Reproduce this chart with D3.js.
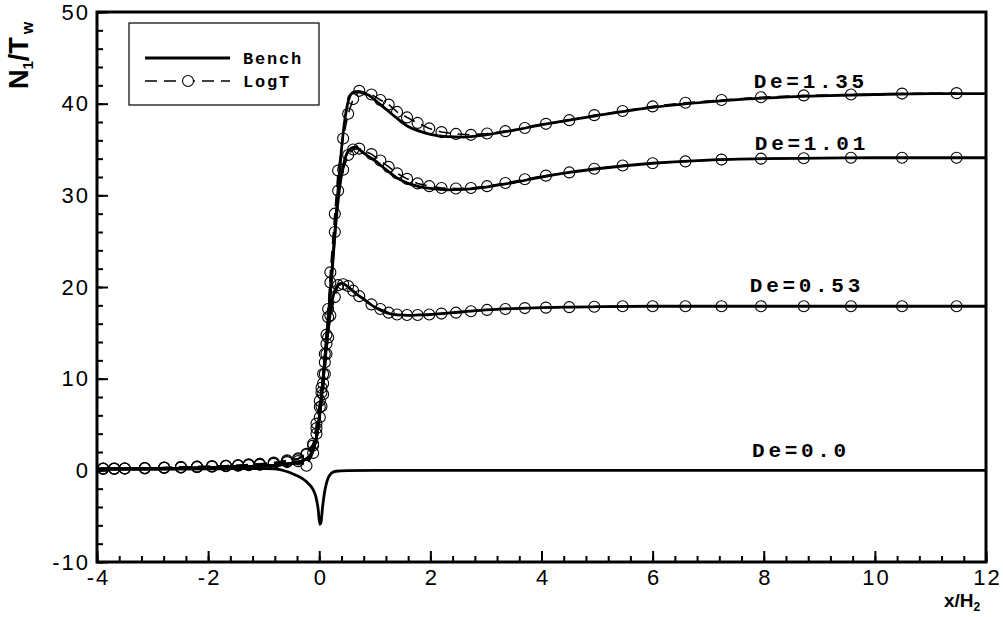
<!DOCTYPE html>
<html>
<head>
<meta charset="utf-8">
<script src="https://cdn.jsdelivr.net/npm/d3@7"></script>
<style>
    body { margin: 0; background: #fff; }
    svg { display: block; }
    .tick text { font-family: "Liberation Sans", Arial, sans-serif; font-size: 22px; letter-spacing: 2px; fill: #000; }
    .mono { font-family: "Liberation Mono", "Courier New", monospace; font-weight: bold; }
</style>
</head>
<body>
<svg id="chart" width="1003" height="617"></svg>
<script>
// bench solution, shared x grid
const xBench = [-4, -3, -2, -1.5, -1, -0.7, -0.5, -0.4, -0.3, -0.2, -0.15, -0.1, -0.05, 0, 0.05, 0.1, 0.15, 0.2, 0.25, 0.3, 0.35, 0.4, 0.45, 0.5, 0.55, 0.6, 0.65, 0.7, 0.8, 0.9, 1.0, 1.2, 1.4, 1.6, 1.8, 2.0, 2.3, 2.6, 3.0, 3.5, 4.0, 4.5, 5.0, 6.0, 7.0, 8.0, 9.0, 10, 11, 12];
const benchDe135 = [0.15, 0.2, 0.3, 0.4, 0.5, 0.6, 0.75, 0.85, 1.05, 1.4, 1.75, 2.4, 3.6, 5.8, 8.8, 12.2, 15.8, 19.5, 23.5, 27.5, 31.5, 35.0, 37.8, 39.7, 40.8, 41.2, 41.3, 41.3, 41.1, 40.9, 40.4, 39.4, 38.4, 37.5, 37.0, 36.65, 36.4, 36.35, 36.6, 37.1, 37.7, 38.2, 38.7, 39.6, 40.2, 40.6, 40.85, 41.0, 41.1, 41.1];
const benchDe101 = [0.15, 0.2, 0.3, 0.4, 0.5, 0.6, 0.75, 0.85, 1.05, 1.4, 1.75, 2.4, 3.6, 5.7, 8.7, 12.0, 15.6, 19.3, 23.2, 27.0, 30.0, 32.2, 33.7, 34.6, 35.0, 35.2, 35.25, 35.1, 34.6, 34.2, 33.8, 32.8, 31.9, 31.3, 30.95, 30.75, 30.6, 30.65, 30.9, 31.4, 32.0, 32.5, 32.9, 33.5, 33.85, 34.0, 34.05, 34.1, 34.1, 34.1];
const benchDe053 = [0.15, 0.2, 0.3, 0.4, 0.5, 0.6, 0.75, 0.85, 1.05, 1.4, 1.75, 2.4, 3.6, 5.6, 8.5, 11.6, 14.7, 17.2, 19.0, 19.9, 20.3, 20.4, 20.3, 20.1, 19.85, 19.6, 19.35, 19.1, 18.7, 18.2, 17.8, 17.2, 16.95, 16.9, 16.95, 17.0, 17.15, 17.3, 17.5, 17.65, 17.75, 17.8, 17.85, 17.9, 17.9, 17.9, 17.9, 17.9, 17.9, 17.9];

// De=0 has its own grid because of the sharp dip
const xBenchDe0 = [-4, -3, -2, -1.5, -1, -0.8, -0.6, -0.45, -0.3, -0.2, -0.12, -0.06, -0.02, 0.01, 0.03, 0.06, 0.09, 0.13, 0.17, 0.22, 0.3, 0.5, 1, 2, 4, 6, 8, 10, 12];
const benchDe0 = [0.1, 0.1, 0.15, 0.2, 0.2, 0.15, -0.1, -0.45, -0.9, -1.4, -2.0, -2.9, -4.2, -5.9, -5.7, -4.0, -2.6, -1.4, -0.7, -0.3, -0.1, -0.03, 0, 0, 0, 0, 0, 0, 0];

// LogT solution (symbols)
const xLogT = [-3.89, -3.69, -3.50, -3.14, -2.79, -2.49, -2.20, -1.93, -1.68, -1.46, -1.27, -1.07, -0.82, -0.58, -0.38, -0.23, -0.11, -0.05, 0.01, 0.04, 0.07, 0.10, 0.13, 0.16, 0.20, 0.28, 0.34, 0.43, 0.52, 0.61, 0.72, 0.94, 1.10, 1.25, 1.40, 1.58, 1.77, 1.98, 2.20, 2.46, 2.73, 3.02, 3.35, 3.70, 4.08, 4.50, 4.95, 5.46, 6.00, 6.59, 7.24, 7.95, 8.72, 9.57, 10.49, 11.47];
const logTDe135 = [0.2, 0.2, 0.2, 0.25, 0.3, 0.35, 0.4, 0.45, 0.5, 0.55, 0.65, 0.7, 0.85, 1.1, 1.3, 1.8, 2.9, 5.1, 7.6, 9.0, 10.5, 12.7, 14.8, 17.6, 21.6, 28.0, 32.7, 36.2, 38.9, 40.5, 41.4, 41.0, 40.4, 39.9, 39.1, 38.5, 37.9, 37.3, 36.9, 36.7, 36.6, 36.75, 37.0, 37.35, 37.8, 38.2, 38.75, 39.2, 39.7, 40.1, 40.4, 40.7, 40.9, 41.0, 41.1, 41.15];
const logTDe101 = [0.2, 0.2, 0.2, 0.25, 0.3, 0.35, 0.4, 0.45, 0.5, 0.55, 0.6, 0.7, 0.8, 1.0, 1.2, 1.7, 2.7, 4.6, 6.9, 8.5, 9.5, 11.8, 13.8, 16.7, 20.5, 26.0, 30.5, 32.8, 34.4, 35.0, 35.1, 34.5, 33.8, 33.1, 32.4, 31.8, 31.3, 31.0, 30.8, 30.75, 30.8, 31.0, 31.35, 31.75, 32.15, 32.5, 32.9, 33.25, 33.5, 33.7, 33.9, 34.0, 34.05, 34.1, 34.1, 34.1];
const logTDe053 = [0.15, 0.15, 0.2, 0.2, 0.25, 0.3, 0.35, 0.4, 0.45, 0.5, 0.55, 0.6, 0.7, 0.9, 1.0, 0.5, 1.9, 4.0, 5.8, 7.0, 8.3, 10.5, 12.7, 14.5, 16.9, 18.9, 20.2, 20.3, 20.1, 19.6, 19.0, 18.1, 17.6, 17.2, 17.0, 16.95, 16.95, 17.0, 17.1, 17.2, 17.35, 17.5, 17.6, 17.7, 17.75, 17.8, 17.85, 17.9, 17.9, 17.9, 17.9, 17.9, 17.9, 17.9, 17.9, 17.9];

const xTicks = [-4, -2, 0, 2, 4, 6, 8, 10, 12];
const yTicks = [-10, 0, 10, 20, 30, 40, 50];
const curveLabels = ["De=1.35", "De=1.01", "De=0.53", "De=0.0"];
const curveLabelPos = [[7.82, 41.7], [7.84, 34.9], [7.75, 19.5], [7.79, 1.5]];
const legendNames = ["Bench", "LogT"];

const svg = d3.select("#chart");
const plot = {left: 97, right: 986, top: 12, bottom: 562};

const x = d3.scaleLinear().domain([-4, 12]).range([plot.left, plot.right]);
const y = d3.scaleLinear().domain([-10, 50]).range([plot.bottom, plot.top]);

svg.append("clipPath").attr("id", "clip")
    .append("rect")
    .attr("x", plot.left).attr("y", plot.top)
    .attr("width", plot.right - plot.left).attr("height", plot.bottom - plot.top);

const zip = (xs, ys) => xs.map((v, i) => [v, ys[i]]);

const benchLine = d3.line().x(d => x(d[0])).y(d => y(d[1])).curve(d3.curveMonotoneX);
const logLine = d3.line().x(d => x(d[0])).y(d => y(d[1]));

const curves = svg.append("g").attr("clip-path", "url(#clip)");

const logSeries = [logTDe135, logTDe101, logTDe053].map(ys => zip(xLogT, ys));
const benchSeries = [
    zip(xBench, benchDe135),
    zip(xBench, benchDe101),
    zip(xBench, benchDe053),
    zip(xBenchDe0, benchDe0)
];

curves.selectAll(".logt")
    .data(logSeries)
    .enter()
    .append("path")
    .attr("class", "logt")
    .attr("d", logLine)
    .attr("fill", "none")
    .attr("stroke", "#000")
    .attr("stroke-width", 1.6)
    .attr("stroke-dasharray", "12,7");

logSeries.forEach(s => {
    curves.append("g")
        .selectAll("circle")
        .data(s)
        .enter()
        .append("circle")
        .attr("cx", d => x(d[0]))
        .attr("cy", d => y(d[1]))
        .attr("r", 5.5)
        .attr("fill", "none")
        .attr("stroke", "#000")
        .attr("stroke-width", 1.1);
});

curves.selectAll(".bench")
    .data(benchSeries)
    .enter()
    .append("path")
    .attr("class", "bench")
    .attr("d", benchLine)
    .attr("fill", "none")
    .attr("stroke", "#000")
    .attr("stroke-width", 2.8);

// axes, ticks pointing inwards
const xAxis = svg.append("g")
    .attr("transform", `translate(1,${plot.bottom})`)
    .call(d3.axisBottom(x).tickValues(xTicks).tickSize(-11).tickPadding(7).tickFormat(d3.format("d")));
svg.append("g")
    .attr("transform", `translate(0,${plot.bottom})`)
    .call(d3.axisBottom(x).tickValues(d3.range(-4, 12.01, 0.4)).tickSize(-6).tickFormat(""));

const yAxis = svg.append("g")
    .attr("transform", `translate(${plot.left},0)`)
    .call(d3.axisLeft(y).tickValues(yTicks).tickSize(-11).tickPadding(7).tickFormat(d3.format("d")));
svg.append("g")
    .attr("transform", `translate(${plot.left},0)`)
    .call(d3.axisLeft(y).tickValues(d3.range(-10, 50.01, 2)).tickSize(-6).tickFormat(""));

svg.selectAll(".domain").remove();
svg.selectAll(".tick line").attr("stroke", "#000").attr("stroke-width", 2);
xAxis.selectAll(".tick line").attr("transform", "translate(-1,0)");
xAxis.selectAll(".tick text").text(d => d < 0 ? "-" + Math.abs(d) : d);
yAxis.selectAll(".tick text").text(d => d < 0 ? "-" + Math.abs(d) : d);

svg.append("rect")
    .attr("x", plot.left).attr("y", plot.top)
    .attr("width", plot.right - plot.left).attr("height", plot.bottom - plot.top)
    .attr("fill", "none")
    .attr("stroke", "#000")
    .attr("stroke-width", 3);

// curve labels
svg.selectAll(".de-label")
    .data(curveLabels)
    .enter()
    .append("text")
    .attr("class", "mono de-label")
    .attr("x", (d, i) => x(curveLabelPos[i][0]))
    .attr("y", (d, i) => y(curveLabelPos[i][1]))
    .attr("font-size", 21)
    .attr("letter-spacing", 3.7)
    .text(d => d);

// axis titles
const yTitle = svg.append("text")
    .attr("transform", "translate(28,89) rotate(-90)")
    .attr("font-family", "Liberation Sans, Arial, sans-serif")
    .attr("font-weight", "bold")
    .attr("font-size", 27);
yTitle.append("tspan").text("N");
yTitle.append("tspan").attr("font-size", 15).attr("dy", 5).text("1");
yTitle.append("tspan").attr("dy", -5).text("/T");
yTitle.append("tspan").attr("font-size", 16).attr("dy", 5).attr("dx", 3).text("w");

const xTitle = svg.append("text")
    .attr("x", 944).attr("y", 607)
    .attr("font-family", "Liberation Sans, Arial, sans-serif")
    .attr("font-weight", "bold")
    .attr("font-size", 19);
xTitle.append("tspan").text("x/H");
xTitle.append("tspan").attr("font-size", 12).attr("dy", 4).text("2");

// legend
const legend = svg.append("g");
legend.append("rect")
    .attr("x", 129).attr("y", 23).attr("width", 190).attr("height", 82)
    .attr("fill", "#fff").attr("stroke", "#000").attr("stroke-width", 1.2);

const legendRows = legend.selectAll(".row")
    .data(legendNames)
    .enter()
    .append("g")
    .attr("transform", (d, i) => `translate(0,${58 + i * 23})`);

legendRows.append("line")
    .attr("x1", 145).attr("x2", 230)
    .attr("stroke", "#000")
    .attr("stroke-width", (d, i) => i === 0 ? 2.8 : 1.6)
    .attr("stroke-dasharray", (d, i) => i === 0 ? null : "12,7");

legendRows.filter((d, i) => i === 1)
    .append("circle")
    .attr("cx", 188).attr("r", 5.5)
    .attr("fill", "#fff").attr("stroke", "#000").attr("stroke-width", 1.1);

legendRows.append("text")
    .attr("class", "mono")
    .attr("x", 243).attr("y", 6)
    .attr("font-size", 17)
    .attr("letter-spacing", 1.8)
    .text(d => d);
</script>
</body>
</html>
